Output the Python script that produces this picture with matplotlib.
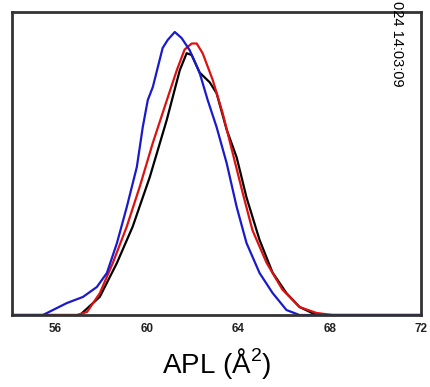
import matplotlib
matplotlib.use('Agg')
import matplotlib.pyplot as plt

plt.rcParams['font.family'] = ['Liberation Sans', 'DejaVu Sans']
plt.rcParams['mathtext.fontset'] = 'custom'
plt.rcParams['mathtext.rm'] = 'Liberation Sans'

# APL distributions
blue_x = [54.1, 55.45, 56.5, 57.2, 57.81, 58.25, 58.69, 59.12, 59.56, 59.82, 60.04, 60.26,
          60.48, 60.69, 60.91, 61.22, 61.52, 61.87, 62.31, 62.66, 63.05, 63.49, 63.93,
          64.36, 64.93, 65.5, 66.11, 66.68, 72.0]
blue_y = [0, 0, 0.0099, 0.0149, 0.0231, 0.0347, 0.0594, 0.0891, 0.1221, 0.1551, 0.1774,
          0.1881, 0.2046, 0.2203, 0.2269, 0.2335, 0.2285, 0.2186, 0.1997, 0.1774, 0.1551,
          0.1254, 0.0891, 0.0594, 0.0347, 0.0182, 0.0041, 0, 0]

red_x = [54.1, 56.94, 57.38, 57.94, 58.51, 59.12, 59.69, 60.26, 60.87, 61.31, 61.65, 61.96,
         62.18, 62.44, 62.88, 63.31, 63.75, 64.19, 64.62, 65.24, 65.93, 66.68, 67.42,
         68.12, 72.0]
red_y = [0, 0, 0.0025, 0.018, 0.043, 0.073, 0.106, 0.142, 0.177, 0.202, 0.219, 0.224,
         0.224, 0.216, 0.194, 0.167, 0.134, 0.101, 0.070, 0.043, 0.021, 0.0066, 0.0017,
         0, 0]

black_x = [54.1, 57.07, 57.94, 58.69, 59.38, 60.13, 60.87, 61.44, 61.74, 61.96, 62.31, 62.75,
           63.05, 63.49, 63.93, 64.36, 64.93, 65.5, 66.11, 66.68, 67.42, 72.0]
black_y = [0, 0, 0.015, 0.043, 0.073, 0.114, 0.161, 0.202, 0.216, 0.2145, 0.200, 0.192,
           0.183, 0.153, 0.130, 0.097, 0.062, 0.035, 0.018, 0.0066, 0, 0]

xticks = [56, 60, 64, 68, 72]

fig = plt.figure(figsize=(4.31, 3.87), dpi=100)
ax = fig.add_axes([0.028, 0.186, 0.949, 0.783])

ax.plot(black_x, black_y, color='black', lw=1.6)
ax.plot(red_x, red_y, color='#dd1111', lw=1.6)
ax.plot(blue_x, blue_y, color='#1a1acc', lw=1.6)

ax.set_xlim(54.1, 72)
ax.set_ylim(0, 0.25)
ax.set_xticks(xticks)
ax.set_xticklabels([str(t) for t in xticks], fontsize=8.5, color='#222222', fontweight='bold')
ax.tick_params(axis='x', length=0, pad=6)
ax.set_yticks([])
for s in ax.spines.values():
    s.set_linewidth(2)
    s.set_color('#333333')

ax.set_xlabel('APL (Å$^{2}$)', fontsize=20, labelpad=8)

fig.text(0.921, 0.998, '024 14:03:09', rotation=-90, ha='center', va='top', fontsize=10.5)

fig.savefig('out.png', dpi=100)
